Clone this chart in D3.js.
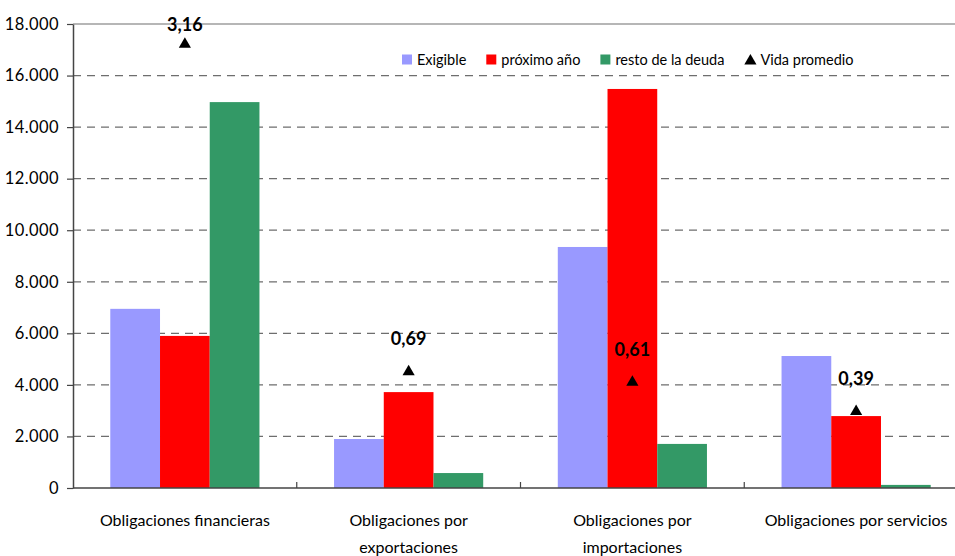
<!DOCTYPE html>
<html>
<head>
<meta charset="utf-8">
<script src="https://cdn.jsdelivr.net/npm/d3@7"></script>
<style>
  body { margin: 0; background: #fff; }
  svg { display: block; font-family: Lato, "Noto Sans", sans-serif; }
</style>
</head>
<body>
<svg id="canvas" width="955" height="556"></svg>
<script>
// data
let categories = ["Obligaciones financieras", "Obligaciones por exportaciones", "Obligaciones por importaciones", "Obligaciones por servicios"];
let categoryLines = [["Obligaciones financieras"], ["Obligaciones por", "exportaciones"], ["Obligaciones por", "importaciones"], ["Obligaciones por servicios"]];
let seriesNames = ["Exigible", "próximo año", "resto de la deuda"];
let exigible = [6950, 1900, 9350, 5120];
let proximoAnio = [5900, 3720, 15480, 2790];
let restoDeuda = [14970, 580, 1710, 120];
let vidaPromedio = [3.16, 0.69, 0.61, 0.39];
let yTicks = [0, 2000, 4000, 6000, 8000, 10000, 12000, 14000, 16000, 18000];

let colors = ["#9999FF", "#FF0000", "#339966"];
let seriesValues = [exigible, proximoAnio, restoDeuda];

let plotLeft = 73, plotRight = 968, plotTop = 24, plotBottom = 488;

let locale = d3.formatLocale({ decimal: ",", thousands: ".", grouping: [3], currency: ["", ""] });
let fmtY = locale.format(",.0f");
let fmtV = locale.format(".2f");

let canvas = d3.select("#canvas");

let x = d3.scaleBand().domain(categories).range([plotLeft, plotRight]);
let bw = x.bandwidth();
let xs = d3.scaleBand().domain(seriesNames).range([bw / 6, bw * 5 / 6]);
let y = d3.scaleLinear().domain([0, 18000]).range([plotBottom, plotTop]);
let y2 = d3.scaleLinear().domain([-0.2, 3.3]).range([plotBottom, plotTop]);

// grid
canvas.append("g")
  .selectAll("line")
  .data(yTicks.filter(t => t > 0))
  .enter()
  .append("line")
  .attr("x1", plotLeft)
  .attr("x2", plotRight)
  .attr("y1", d => y(d))
  .attr("y2", d => y(d))
  .attr("stroke", "#6e6e6e")
  .attr("stroke-width", 1.2)
  .attr("stroke-dasharray", d => d === 18000 ? null : "8,6");

// bars
seriesNames.forEach((s, i) => {
  canvas.append("g")
    .selectAll("rect")
    .data(categories)
    .enter()
    .append("rect")
    .attr("x", c => x(c) + xs(s))
    .attr("width", xs.bandwidth())
    .attr("y", (c, j) => y(seriesValues[i][j]))
    .attr("height", (c, j) => y(0) - y(seriesValues[i][j]))
    .attr("fill", colors[i]);
});

// y axis
let yAxis = canvas.append("g")
  .attr("transform", `translate(${plotLeft},0)`)
  .call(d3.axisLeft(y).tickValues(yTicks).tickFormat(fmtY).tickSize(6).tickSizeOuter(0));
yAxis.select(".domain").attr("stroke", "#444").attr("stroke-width", 1.5);
yAxis.selectAll(".tick line").attr("stroke", "#444").attr("stroke-width", 1.2);
yAxis.selectAll(".tick text")
  .attr("x", -14)
  .attr("font-size", 16.5)
  .attr("letter-spacing", 0.4)
  .attr("font-family", "Lato, sans-serif")
  .attr("fill", "#000");

// x axis
canvas.append("line")
  .attr("x1", plotLeft).attr("x2", plotRight)
  .attr("y1", y(0)).attr("y2", y(0))
  .attr("stroke", "#444").attr("stroke-width", 1.5);
canvas.append("g")
  .selectAll("line")
  .data(categories.slice(1))
  .enter()
  .append("line")
  .attr("x1", c => x(c)).attr("x2", c => x(c))
  .attr("y1", y(0)).attr("y2", y(0) - 6)
  .attr("stroke", "#444").attr("stroke-width", 1.2);

let labels = canvas.append("g")
  .selectAll("text")
  .data(categories)
  .enter()
  .append("text")
  .attr("x", c => x(c) + bw / 2)
  .attr("y", 526)
  .attr("text-anchor", "middle")
  .attr("font-size", 16);
labels.selectAll("tspan")
  .data((c, i) => categoryLines[i])
  .enter()
  .append("tspan")
  .attr("x", function () { return d3.select(this.parentNode).attr("x"); })
  .attr("dy", (d, k) => k === 0 ? 0 : 27)
  .text(d => d);

// vida promedio markers
let tri = d3.symbol().type(d3.symbolTriangle).size(64);
canvas.append("g")
  .selectAll("path")
  .data(categories)
  .enter()
  .append("path")
  .attr("d", tri)
  .attr("transform", (c, j) => `translate(${x(c) + bw / 2},${y2(vidaPromedio[j]) + 1.7})`)
  .attr("fill", "#000");

canvas.append("g")
  .selectAll("text")
  .data(categories)
  .enter()
  .append("text")
  .attr("x", c => x(c) + bw / 2)
  .attr("y", (c, j) => Math.max(y2(vidaPromedio[j]) - 25, 31))
  .attr("text-anchor", "middle")
  .attr("font-size", 18)
  .attr("font-weight", "bold")
  .text((c, j) => fmtV(vidaPromedio[j]));

// legend
let legend = canvas.append("g").attr("font-size", 14.5);
let lx = 402, ly = 60;
let legendItems = seriesNames.concat(["Vida promedio"]);
legendItems.forEach((name, i) => {
  if (i < 3) {
    legend.append("rect")
      .attr("x", lx).attr("y", ly - 5.5)
      .attr("width", 10).attr("height", 10)
      .attr("fill", colors[i]);
  } else {
    legend.append("path")
      .attr("d", d3.symbol().type(d3.symbolTriangle).size(64)())
      .attr("transform", `translate(${lx + 6},${ly + 1})`)
      .attr("fill", "#000");
  }
  let t = legend.append("text")
    .attr("x", lx + (i < 3 ? 15 : 16))
    .attr("y", ly + 5)
    .text(name);
  lx = lx + (i < 3 ? 15 : 16) + t.node().getComputedTextLength() + 20;
});
</script>
</body>
</html>
